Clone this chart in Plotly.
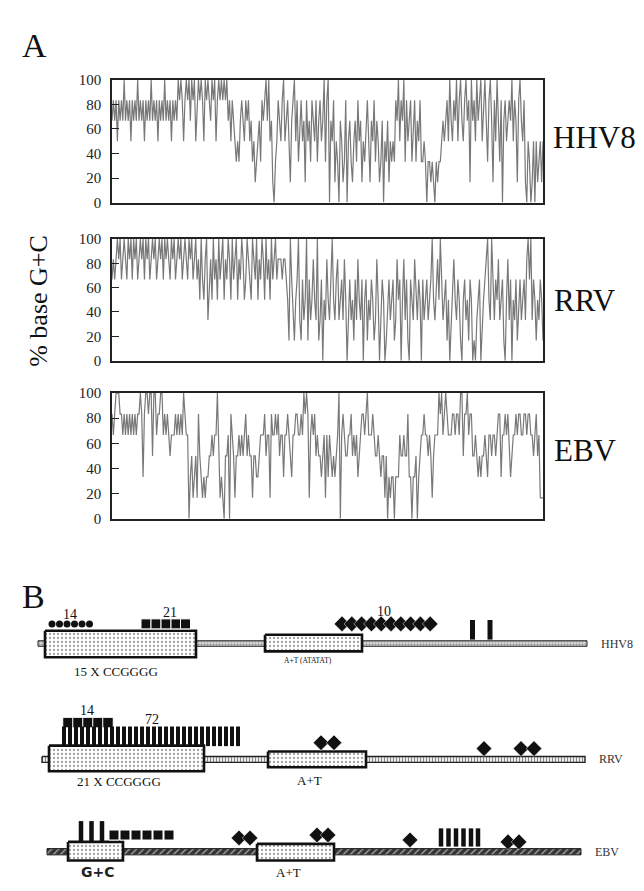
import plotly.graph_objects as go

W, H = 644, 891

# ---------------- Panel A data: G+C count in a 6-base window (0..6) ----------------
hhv8_gc = [
    4,5,4,5,3,5,4,5,4,6,4,5,4,5,3,5, 4,5,4,6,4,5,4,5,3,5,4,5,4,6,4,5,
    4,5,3,5,4,5,4,6,4,5,4,5,3,5,4,5, 4,6,5,6,5,3,5,6,5,6,4,6,5,6,3,5,
    6,5,6,5,3,6,5,6,5,4,6,5,6,3,5,6, 5,6,5,6,5,6,4,5,3,5,4,3,2,3,2,4,
    5,4,3,5,4,5,3,4,2,3,1,2,3,4,2,5, 4,5,6,4,6,3,4,1,0,2,3,5,4,3,5,6,
    3,4,5,3,1,4,5,6,3,5,2,4,5,3,4,1, 5,3,4,2,5,4,3,5,2,4,5,3,4,6,2,5,
    6,0,4,3,5,1,3,2,0,4,3,1,2,5,0,3, 4,2,1,3,4,2,5,3,4,1,3,2,4,5,3,1,
    4,3,5,2,4,3,1,2,4,0,3,2,4,1,3,2, 3,2,5,4,6,3,5,4,6,2,5,3,4,5,2,4,
    5,2,4,3,5,2,2,3,2,0,2,2,1,2,1,0, 2,1,2,2,3,4,3,4,5,3,6,4,3,5,4,6,
    3,5,6,4,3,5,6,4,5,1,6,4,5,3,6,4, 5,6,3,5,6,4,2,5,6,4,1,5,3,6,4,2,
    5,0,4,5,3,4,5,4,6,3,5,4,1,5,6,4, 3,5,1,0,3,2,0,1,3,0,3,1,2,3,1,3,
]
rrv_gc = [
    4,5,4,5,6,5,6,4,5,6,5,4,6,5,6,4, 6,5,6,4,5,6,5,6,4,6,5,6,4,5,6,5,
    6,4,5,6,5,6,4,6,5,6,5,4,6,5,6,4, 5,6,5,6,4,5,6,5,4,6,5,6,4,5,6,4,
    5,3,6,4,3,5,6,2,4,5,3,6,4,5,3,6, 4,5,6,3,5,4,6,5,3,6,4,5,6,3,5,4,
    6,5,3,4,6,5,4,3,6,5,4,6,3,5,4,6, 5,3,6,4,5,3,6,4,5,6,4,5,5,5,4,5,
    5,4,3,1,6,4,2,1,3,4,6,2,1,4,2,3, 6,1,4,2,3,5,3,2,6,1,2,4,0,3,2,5,
    3,2,4,6,3,2,4,5,2,3,4,2,5,3,0,2, 4,2,3,1,4,2,5,3,2,4,0,3,4,1,3,2,
    4,3,1,2,5,3,0,2,4,3,0,1,3,4,2,3, 4,1,2,5,3,4,0,3,5,2,4,1,0,4,3,2,
    5,3,2,4,3,0,4,2,3,4,2,3,4,6,3,2, 4,5,3,6,4,2,3,4,1,3,0,2,4,5,3,2,
    4,3,1,0,3,4,2,3,1,4,3,0,1,0,2,3, 4,0,2,3,4,5,6,3,2,6,4,2,4,3,5,2,
    3,4,1,0,3,5,2,4,0,3,2,4,1,3,4,2, 3,4,2,5,6,4,6,2,4,3,1,3,2,4,3,1,
]
ebv_gc = [
    5,4,5,6,6,6,5,5,4,5,4,5,4,5,4,5, 4,5,4,5,5,6,5,2,5,6,6,5,6,6,3,6,
    6,4,5,5,6,6,4,5,4,5,4,3,4,4,4,5, 4,5,4,5,4,6,5,4,4,0,2,3,1,2,3,1,
    5,3,2,1,2,1,2,2,3,3,4,3,4,4,6,3, 1,2,1,0,3,3,4,0,5,4,3,1,3,3,4,3,
    4,3,4,5,3,4,3,3,1,3,3,2,2,3,4,4, 4,5,3,4,4,1,5,4,4,5,4,5,3,4,4,2,
    4,4,5,4,3,2,4,4,5,5,4,4,5,4,6,5, 6,5,1,4,5,4,5,3,4,3,3,2,3,4,1,4,
    2,4,3,2,3,2,3,4,6,0,4,5,4,3,3,4, 4,5,3,4,3,4,2,3,4,5,5,4,5,6,4,4,
    4,5,4,3,3,4,3,2,3,3,1,3,0,2,1,2, 2,0,2,2,2,4,3,3,4,3,3,5,2,2,0,2,
    2,3,0,2,3,4,4,5,4,4,3,4,3,1,3,4, 4,4,6,5,6,4,5,6,5,4,4,4,5,5,4,5,
    5,4,6,6,3,5,5,6,4,5,5,3,3,4,3,2, 3,2,3,3,4,3,2,4,4,3,4,4,3,4,5,5,
    2,4,4,5,4,5,3,2,3,4,4,5,4,5,5,4, 4,5,5,4,5,5,4,4,3,4,5,3,4,1,1,1,
]
window = 6
y_ticks = [0, 20, 40, 60, 80, 100]
virus_names = ["HHV8", "RRV", "EBV"]

# ---------------- Panel B data (positions along the drawn genome map) ----------------
backbone = {"HHV8": (30, 579, 639), "RRV": (34, 577, 757), "EBV": (39, 573, 851)}
boxes = [  # (row, x0, x1, y0, y1)
    ("HHV8", 37, 188, 626, 653), ("HHV8", 257, 354, 630, 647),
    ("RRV", 41, 196, 743, 769), ("RRV", 260, 358, 749, 765),
    ("EBV", 60, 115, 841, 860), ("EBV", 249, 326, 843, 860),
]
hhv8_circles_x = [44, 51.5, 59, 66.5, 74, 81.5]
hhv8_squares_x = [138, 148, 158, 168, 177.5]
hhv8_diamonds_x = [334, 343.8, 353.6, 363.4, 373.2, 383, 392.8, 402.6, 412.4, 422.2]
hhv8_bars_x = [464.5, 482]
rrv_squares_x = [60, 70, 80, 90, 100]
rrv_bars_x = [56 + 6 * i for i in range(30)]
rrv_diamonds_x = [313, 326, 476, 513, 526]
rrv_diamonds_y = [740, 740, 746, 746, 746]
ebv_bars_x = [73, 83.5, 94]
ebv_squares_x = [106, 117, 128, 139, 150, 161]
ebv_diamonds_x = [231, 242, 309, 320, 402, 500, 511]
ebv_diamonds_y = [837, 837, 834, 834, 839, 841, 841]
ebv_bars2_x = [433, 440.5, 448, 455.5, 463, 470]

SERIF = "Liberation Serif"
fig = go.Figure()

# ---- Panel A traces ----
xdom = [104 / W, 535 / W]
ydoms = [(65, 190), (227, 351), (384, 512)]
series = [hhv8_gc, rrv_gc, ebv_gc]
for i, (name, vals) in enumerate(zip(virus_names, series)):
    ax = "" if i == 0 else str(i + 1)
    fig.add_trace(go.Scatter(
        x=list(range(len(vals))), y=[v * 100 / window for v in vals],
        mode="lines", line=dict(color="#787878", width=1.2),
        xaxis="x" + ax, yaxis="y" + ax, showlegend=False, hoverinfo="skip"))
    top, bot = ydoms[i]
    fig.update_layout(**{
        "xaxis" + ax: dict(domain=xdom, range=[0, len(vals) - 1], showticklabels=False,
                           ticks="", showline=True, mirror=True, linecolor="#222",
                           linewidth=1.6, showgrid=False, zeroline=False, anchor="y" + ax),
        "yaxis" + ax: dict(domain=[1 - bot / H, 1 - top / H], range=[0, 100],
                           tickvals=y_ticks, ticks="inside", ticklen=7, tickcolor="#222",
                           tickfont=dict(family=SERIF, size=15, color="#222"),
                           ticklabelstandoff=6,
                           showline=True, mirror=True, linecolor="#222", linewidth=1.6,
                           showgrid=False, zeroline=False, anchor="x" + ax),
    })

# ---- Panel B (overlay axis in page units) ----
B = dict(xaxis="x4", yaxis="y4", showlegend=False, hoverinfo="skip")

for name, (x0, x1, yc) in backbone.items():
    if name == "HHV8":
        pat = dict(shape=".", fgcolor="#555", bgcolor="#d8d8d8", size=3, solidity=0.4)
        h, lw = 2.8, 1.0
    elif name == "RRV":
        pat = dict(shape="|", fgcolor="#111", bgcolor="#ffffff", size=3, solidity=0.45)
        h, lw = 3.0, 1.4
    else:
        pat = dict(shape="/", fgcolor="#ffffff", bgcolor="#333333", size=5, solidity=0.3)
        h, lw = 3.2, 1.0
    fig.add_trace(go.Scatter(x=[x0, x1, x1, x0, x0], y=[yc - h, yc - h, yc + h, yc + h, yc - h],
                             mode="lines", fill="toself", fillpattern=pat,
                             line=dict(color="#222", width=lw), **B))

for row, x0, x1, y0, y1 in boxes:
    fig.add_trace(go.Scatter(x=[x0, x1, x1, x0, x0], y=[y0, y0, y1, y1, y0],
                             mode="lines", fill="toself",
                             fillpattern=dict(shape=".", fgcolor="#444", bgcolor="#ffffff",
                                              size=4, solidity=0.25),
                             line=dict(color="#111", width=2.6), **B))

def marks(xs, ys, symbol, size, lw=0, color="#111"):
    if not isinstance(ys, list):
        ys = [ys] * len(xs)
    if symbol == "line-ns":
        mk = dict(symbol=symbol, size=size, line=dict(color=color, width=lw))
    else:
        mk = dict(symbol=symbol, size=size, color=color,
                  line=dict(color="white", width=lw))
    fig.add_trace(go.Scatter(x=xs, y=ys, mode="markers", marker=mk, **B))

marks(hhv8_circles_x, 619, "circle", 7)
marks(hhv8_squares_x, 619, "square", 10, lw=1)
marks(hhv8_diamonds_x, 619, "diamond", 12, lw=0.5)
marks(hhv8_bars_x, 625, "line-ns", 14, lw=5)
marks(rrv_squares_x, 719.5, "square", 10.5, lw=1)
marks(rrv_bars_x, 733.5, "line-ns", 14, lw=4)
marks(rrv_diamonds_x, rrv_diamonds_y, "diamond", 12, lw=0.5)
marks(ebv_bars_x, 830.5, "line-ns", 15, lw=4.5)
marks(ebv_squares_x, 834, "square", 10, lw=1)
marks(ebv_diamonds_x, ebv_diamonds_y, "diamond", 12, lw=0.5)
marks(ebv_bars2_x, 836.5, "line-ns", 13, lw=4.5)

fig.update_layout(
    xaxis4=dict(domain=[0, 1], range=[0, W], visible=False, anchor="y4"),
    yaxis4=dict(domain=[0, 1], range=[H, 0], visible=False, anchor="x4"),
)

def txt(x, y, s, size, xanchor="center", family=SERIF, color="#111", angle=0):
    fig.add_annotation(x=x, y=y, xref="x4", yref="y4", text=s, showarrow=False,
                       xanchor=xanchor, yanchor="middle", textangle=angle,
                       font=dict(family=family, size=size, color=color))

txt(12, 30, "A", 34, xanchor="left")
txt(12, 591, "B", 34, xanchor="left")
txt(31, 290, "% base G+C", 26, angle=-90)
txt(543, 124, "HHV8", 31, xanchor="left")
txt(544, 290, "RRV", 31, xanchor="left")
txt(544, 442, "EBV", 31, xanchor="left")

txt(62, 609, "14", 14)
txt(162, 607, "21", 14)
txt(376, 606, "10", 14)
txt(108, 667, "15 X CCGGGG", 13)
txt(300, 656, "A+T (ATATAT)", 7.5)
txt(591, 639, "HHV8", 12, xanchor="left", color="#333")

txt(79, 707, "14", 14)
txt(144, 716, "72", 14)
txt(111, 780, "21 X CCGGGG", 13)
txt(301, 778, "A+T", 13)
txt(589, 757, "RRV", 12, xanchor="left", color="#333")

txt(90, 872, "<b>G+C</b>", 14, family="DejaVu Sans", color="#222")
txt(280, 872, "A+T", 13)
txt(585, 851, "EBV", 12, xanchor="left", color="#333")

fig.update_layout(width=W, height=H, margin=dict(l=0, r=0, t=0, b=0),
                  paper_bgcolor="white", plot_bgcolor="rgba(0,0,0,0)",
                  showlegend=False)

fig.write_html("out.html")
